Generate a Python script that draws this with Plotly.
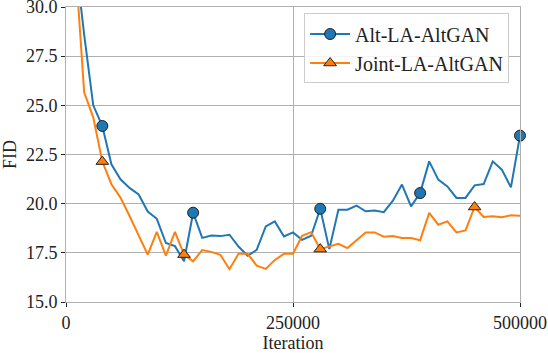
import plotly.graph_objects as go

iterations = list(range(10000, 500001, 10000))

alt_fid = [
    32.6, 28.6, 25.0, 23.95, 22.0, 21.24, 20.8, 20.47, 19.6, 19.23,
    18.0, 17.84, 17.07, 19.54, 18.26, 18.38, 18.35, 18.42, 17.82, 17.35,
    17.65, 18.84, 19.1, 18.33, 18.54, 18.16, 18.37, 19.74, 17.69, 19.69,
    19.69, 19.9, 19.61, 19.65, 19.57, 20.15, 20.97, 19.86, 20.54, 22.15,
    21.22, 20.88, 20.29, 20.29, 20.93, 21.0, 22.15, 21.73, 20.83, 23.46,
]
joint_fid = [
    32.5, 25.66, 24.39, 22.14, 20.99, 20.31, 19.37, 18.35, 17.41, 18.57,
    17.36, 18.57, 17.41, 17.07, 17.64, 17.55, 17.4, 16.67, 17.45, 17.45,
    16.85, 16.68, 17.14, 17.45, 17.45, 18.37, 18.55, 17.69, 17.82, 17.96,
    17.74, 18.16, 18.54, 18.54, 18.32, 18.35, 18.25, 18.25, 18.14, 19.53,
    18.93, 19.1, 18.54, 18.64, 19.83, 19.32, 19.36, 19.31, 19.41, 19.39,
]
# iterations where a marker is drawn
alt_marks = [40000, 140000, 280000, 390000, 500000]
joint_marks = [40000, 130000, 280000, 450000]

x_ticks = [0, 250000, 500000]
y_ticks = [15.0, 17.5, 20.0, 22.5, 25.0, 27.5, 30.0]

BLUE = "#1f77b4"
ORANGE = "#ff7f0e"
FONT = "serif"


def add_series(fig, x, y, marks, name, color, symbol, size):
    fig.add_trace(go.Scatter(x=x, y=y, mode="lines", line=dict(color=color, width=2), showlegend=False))
    mx = [v for v in x if v in marks]
    my = [y[x.index(v)] for v in mx]
    marker = dict(color=color, symbol=symbol, size=size, line=dict(color="#222222", width=1))
    fig.add_trace(go.Scatter(x=mx, y=my, mode="markers", marker=marker, cliponaxis=False, showlegend=False))
    # legend entry only
    fig.add_trace(go.Scatter(x=[None], y=[None], mode="lines+markers", name=name,
                             line=dict(color=color, width=2), marker=marker))


fig = go.Figure()
add_series(fig, iterations, alt_fid, alt_marks, "Alt-LA-AltGAN", BLUE, "circle", 11)
add_series(fig, iterations, joint_fid, joint_marks, "Joint-LA-AltGAN", ORANGE, "triangle-up", 11)

axis_common = dict(
    showgrid=True, gridcolor="#b0b0b0", gridwidth=1, zeroline=False,
    showline=True, linecolor="#b0b0b0", linewidth=1, mirror=True,
    ticks="outside", ticklen=4, tickcolor="#222222", automargin=False,
    ticklabeloverflow="allow",
    tickfont=dict(family=FONT, size=18, color="#222222"),
)
fig.update_layout(
    width=548, height=353,
    margin=dict(l=66, r=28, t=7, b=51),
    plot_bgcolor="white", paper_bgcolor="white",
    font=dict(family=FONT, size=18, color="#222222"),
    xaxis=dict(range=[0, 500000], tickvals=x_ticks, tickformat="d",
               title=dict(text="Iteration", font=dict(family=FONT, size=18), standoff=0), **axis_common),
    yaxis=dict(range=[15, 30], tickvals=y_ticks, tickformat=".1f",
               title=dict(text="FID", font=dict(family=FONT, size=18), standoff=4), **axis_common),
    legend=dict(x=0.976, y=0.978, xanchor="right", yanchor="top", itemwidth=40,
                bgcolor="rgba(255,255,255,0.85)", bordercolor="#cccccc", borderwidth=1,
                font=dict(family=FONT, size=20, color="#222222")),
)

fig.write_html("out.html", config={"displayModeBar": False},
               post_script="document.body.style.margin='0';")
